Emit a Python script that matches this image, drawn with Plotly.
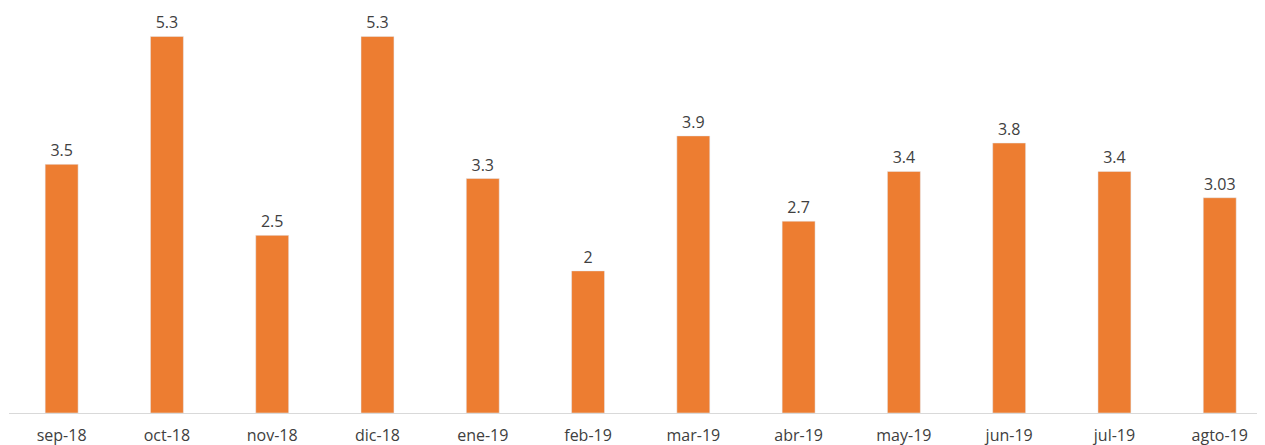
import plotly.graph_objects as go

categories = ["sep-18", "oct-18", "nov-18", "dic-18", "ene-19", "feb-19",
              "mar-19", "abr-19", "may-19", "jun-19", "jul-19", "agto-19"]
values = [3.5, 5.3, 2.5, 5.3, 3.3, 2, 3.9, 2.7, 3.4, 3.8, 3.4, 3.03]
labels = [f"{v:g}" for v in values]

fig = go.Figure(go.Bar(
    x=categories, y=values, text=labels, textposition="outside",
    marker_color="#ED7D31", cliponaxis=False,
    textfont=dict(size=16, color="#404040", family="Open Sans"),
))
fig.update_layout(
    width=1257, height=437,
    margin=dict(l=1, r=0, t=0, b=32),
    paper_bgcolor="white", plot_bgcolor="white",
    bargap=0.687, showlegend=False,
    font=dict(family="Open Sans", size=16, color="#404040"),
)
fig.update_xaxes(range=[-0.5, 11.43], showline=True, linecolor="#d9d9d9",
                 linewidth=1, ticks="", ticklabelstandoff=8, automargin=False,
                 tickfont=dict(size=16, color="#404040"))
fig.update_yaxes(range=[0, 5.70], visible=False, showgrid=False)
fig.write_html("out.html")
